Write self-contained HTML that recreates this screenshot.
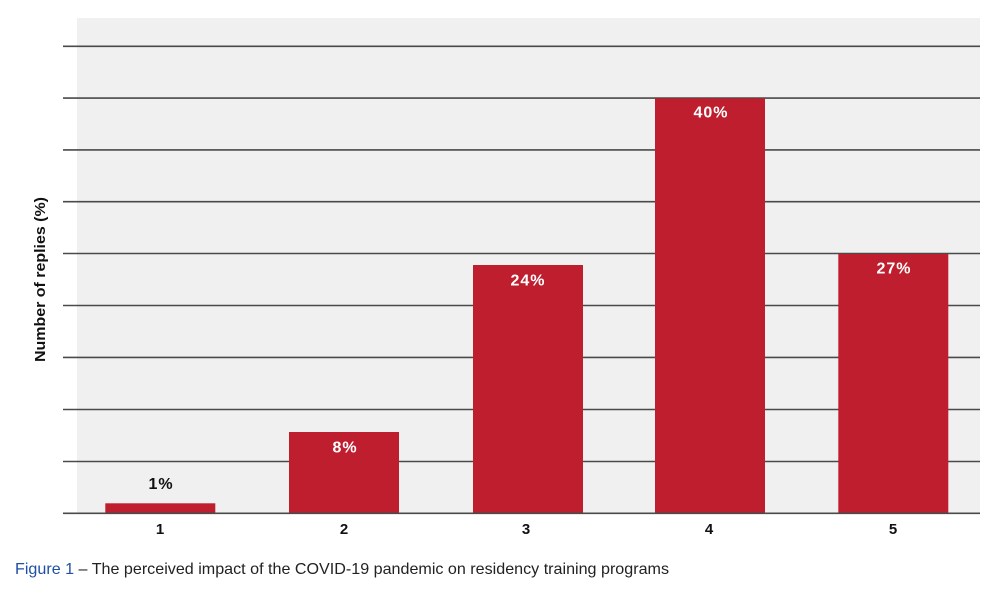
<!DOCTYPE html>
<html>
<head>
<meta charset="utf-8">
<style>
html,body{margin:0;padding:0;background:#fff;}
svg{display:block;}
</style>
</head>
<body>
<svg width="1000" height="591" viewBox="0 0 1000 591" xmlns="http://www.w3.org/2000/svg">
  <rect x="0" y="0" width="1000" height="591" fill="#ffffff"/>
  <rect x="77" y="18" width="903" height="495" fill="#f0f0f0"/>
  <g stroke="#4a4a4a" stroke-width="1.6">
    <line x1="63" y1="46.3" x2="980" y2="46.3"/>
    <line x1="63" y1="98.1" x2="980" y2="98.1"/>
    <line x1="63" y1="149.9" x2="980" y2="149.9"/>
    <line x1="63" y1="201.7" x2="980" y2="201.7"/>
    <line x1="63" y1="253.5" x2="980" y2="253.5"/>
    <line x1="63" y1="305.5" x2="980" y2="305.5"/>
    <line x1="63" y1="357.4" x2="980" y2="357.4"/>
    <line x1="63" y1="409.5" x2="980" y2="409.5"/>
    <line x1="63" y1="461.5" x2="980" y2="461.5"/>
  </g>
  <g fill="#be1e2d">
    <rect x="105.3" y="503.3" width="110" height="9.7"/>
    <rect x="289" y="432" width="110" height="81"/>
    <rect x="473" y="265" width="110" height="248"/>
    <rect x="655" y="98.3" width="110" height="414.7"/>
    <rect x="838.3" y="254" width="110" height="259"/>
  </g>
  <line x1="63" y1="513.3" x2="980" y2="513.3" stroke="#4a4a4a" stroke-width="1.6"/>
  <g font-family="'Liberation Sans', Arial, sans-serif" font-weight="bold" font-size="16" text-anchor="middle" letter-spacing="1">
    <text x="161" y="489" fill="#111">1%</text>
    <text x="345" y="452.3" fill="#fff">8%</text>
    <text x="528" y="285.7" fill="#fff">24%</text>
    <text x="711" y="117.7" fill="#fff">40%</text>
    <text x="894" y="273.3" fill="#fff">27%</text>
  </g>
  <g font-family="'Liberation Sans', Arial, sans-serif" font-weight="bold" font-size="15" text-anchor="middle" fill="#111">
    <text x="160" y="534">1</text>
    <text x="344" y="534">2</text>
    <text x="526" y="534">3</text>
    <text x="709" y="534">4</text>
    <text x="893" y="534">5</text>
  </g>
  <text transform="translate(45,279.5) rotate(-90)" font-family="'Liberation Sans', Arial, sans-serif" font-weight="bold" font-size="15" text-anchor="middle" fill="#111" textLength="165" lengthAdjust="spacingAndGlyphs">Number of replies (%)</text>
  <text x="15" y="574" font-family="'Liberation Sans', Arial, sans-serif" font-size="16" fill="#222" textLength="654" lengthAdjust="spacingAndGlyphs"><tspan fill="#1f4ea6">Figure 1</tspan> – The perceived impact of the COVID-19 pandemic on residency training programs</text>
</svg>
</body>
</html>
